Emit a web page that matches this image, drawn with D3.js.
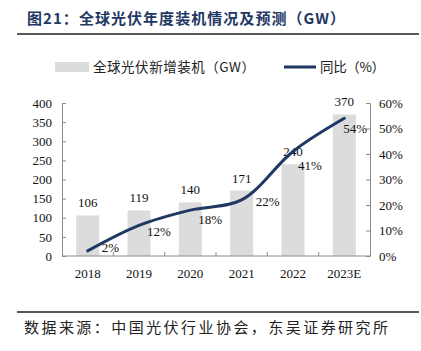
<!DOCTYPE html>
<html>
<head>
<meta charset="utf-8">
<script src="https://cdn.jsdelivr.net/npm/d3@7"></script>
<style>
  body { margin: 0; background: #fff; }
  svg text { font-family: "Liberation Serif", "Noto Sans CJK SC", serif; }
</style>
</head>
<body>
<svg id="chart" width="421" height="351"></svg>
<script>
const years = ["2018", "2019", "2020", "2021", "2022", "2023E"];
const installed = [106, 119, 140, 171, 240, 370];
const growth = [2, 12, 18, 22, 41, 54];
const leftTicks = [0, 50, 100, 150, 200, 250, 300, 350, 400];
const rightTicks = [0, 10, 20, 30, 40, 50, 60];

// where each growth label sits relative to its point
const labelDx = [14, 8, 8, 14, 5, -1];
const labelDy = [1, 11, 14, 6, 19, 15];

const svg = d3.select("#chart");
const navy = "#1f3864";
const axisColor = "#8c8c8c";
const cjk = "'Noto Sans CJK SC', sans-serif";

const x = d3.scaleBand().domain(years).range([62, 370]);
const yL = d3.scaleLinear().domain([0, 400]).range([256, 103]);
const yR = d3.scaleLinear().domain([0, 60]).range([256, 103]);

// title
svg.append("text")
    .attr("x", 27).attr("y", 24)
    .attr("fill", navy)
    .attr("textLength", 318)
    .attr("lengthAdjust", "spacing")
    .style("font-family", cjk)
    .style("font-weight", "bold")
    .style("font-size", "15px")
    .text("图21：全球光伏年度装机情况及预测（GW）");
svg.append("line")
    .attr("x1", 17).attr("x2", 419).attr("y1", 34).attr("y2", 34)
    .attr("stroke", "#222").attr("stroke-width", 1.5);

// legend
svg.append("rect")
    .attr("x", 55).attr("y", 62).attr("width", 34).attr("height", 10)
    .attr("fill", "#dcdcdc");
svg.append("text")
    .attr("x", 93).attr("y", 72)
    .attr("textLength", 162)
    .attr("lengthAdjust", "spacing")
    .style("font-family", cjk).style("font-size", "13.5px").attr("fill", "#222")
    .text("全球光伏新增装机（GW）");
svg.append("line")
    .attr("x1", 284).attr("x2", 316).attr("y1", 67).attr("y2", 67)
    .attr("stroke", navy).attr("stroke-width", 3);
svg.append("text")
    .attr("x", 320).attr("y", 72)
    .attr("textLength", 65)
    .attr("lengthAdjust", "spacing")
    .style("font-family", cjk).style("font-size", "13.5px").attr("fill", "#222")
    .text("同比（%）");

// bars
svg.append("g")
    .selectAll("rect")
    .data(installed)
    .join("rect")
    .attr("x", (d, i) => x(years[i]) + x.bandwidth() / 2 - 11.5)
    .attr("width", 23)
    .attr("y", d => yL(d))
    .attr("height", d => yL(0) - yL(d))
    .attr("fill", "#dcdcdc");

svg.append("g")
    .selectAll("text")
    .data(installed)
    .join("text")
    .attr("x", (d, i) => x(years[i]) + x.bandwidth() / 2)
    .attr("y", d => yL(d) - 8)
    .attr("text-anchor", "middle")
    .style("font-size", "13px")
    .attr("fill", "#111")
    .text(d => d);

// axes
const axisL = svg.append("g")
    .attr("transform", "translate(62,0)")
    .call(d3.axisLeft(yL).tickValues(leftTicks).tickSize(-4).tickPadding(10));
const axisR = svg.append("g")
    .attr("transform", "translate(370,0)")
    .call(d3.axisRight(yR).tickValues(rightTicks).tickSize(-4).tickPadding(9).tickFormat(d => d + "%"));
const axisB = svg.append("g")
    .attr("transform", "translate(0,256)");
axisB.append("line")
    .attr("x1", 62).attr("x2", 370)
    .attr("stroke", axisColor);
axisB.selectAll("line.tk")
    .data(years.slice(1))
    .join("line")
    .attr("class", "tk")
    .attr("x1", d => x(d)).attr("x2", d => x(d))
    .attr("y1", 0).attr("y2", -4)
    .attr("stroke", axisColor);
axisB.selectAll("text")
    .data(years)
    .join("text")
    .attr("x", d => x(d) + x.bandwidth() / 2)
    .attr("y", 22)
    .attr("text-anchor", "middle")
    .style("font-size", "13px")
    .attr("fill", "#111")
    .text(d => d);

[axisL, axisR].forEach(a => {
    a.select(".domain").attr("stroke", axisColor);
    a.selectAll(".tick line").attr("stroke", axisColor);
    a.selectAll(".tick text")
        .style("font-size", "13px")
        .style("font-family", "'Liberation Serif', serif")
        .attr("fill", "#111");
});

// growth line
const line = d3.line()
    .x((d, i) => x(years[i]) + x.bandwidth() / 2)
    .y(d => yR(d))
    .curve(d3.curveCatmullRom);
svg.append("path")
    .datum(growth)
    .attr("d", line)
    .attr("fill", "none")
    .attr("stroke", navy)
    .attr("stroke-width", 3)
    .attr("stroke-linecap", "round");

svg.append("g")
    .selectAll("text")
    .data(growth)
    .join("text")
    .attr("x", (d, i) => x(years[i]) + x.bandwidth() / 2 + labelDx[i])
    .attr("y", (d, i) => yR(d) + labelDy[i])
    .style("font-size", "13px")
    .attr("fill", "#111")
    .text(d => d + "%");

// source
svg.append("line")
    .attr("x1", 17).attr("x2", 419).attr("y1", 312).attr("y2", 312)
    .attr("stroke", "#222").attr("stroke-width", 1.5);
svg.append("text")
    .attr("x", 24).attr("y", 333)
    .attr("textLength", 364)
    .attr("lengthAdjust", "spacing")
    .style("font-family", cjk).style("font-size", "15px")
    .attr("fill", "#222")
    .text("数据来源：中国光伏行业协会，东吴证券研究所");
</script>
</body>
</html>
